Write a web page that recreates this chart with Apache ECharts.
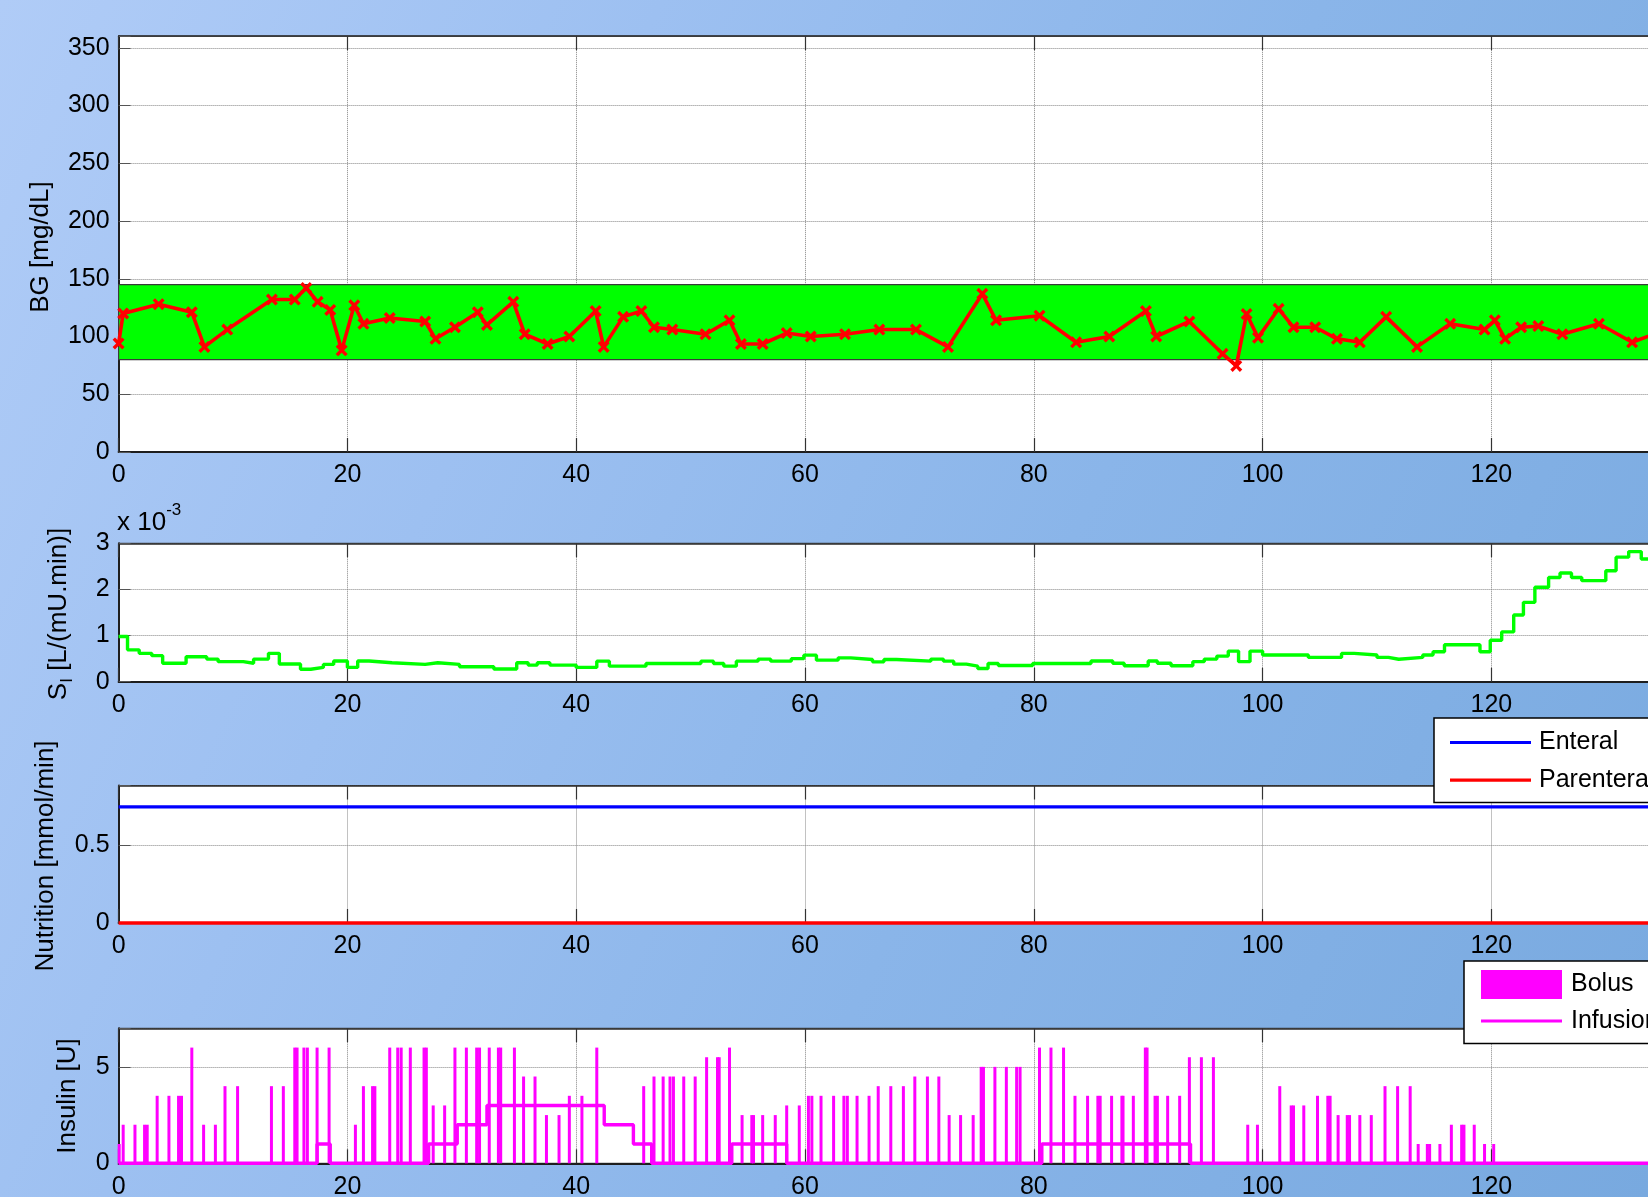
<!DOCTYPE html>
<html><head><meta charset="utf-8">
<script src="https://cdn.jsdelivr.net/npm/echarts@6/dist/echarts.min.js"></script>
<style>
html,body{margin:0;padding:0;}
body{width:1648px;height:1197px;overflow:hidden;background:linear-gradient(115deg,#b0ccf7 0%,#9dc0f1 30%,#8ab5e9 60%,#78a9df 100%);}
#c{width:1648px;height:1197px;}
</style></head><body><div id="c"></div>
<script>
// ---------------- data ----------------
const xTicks = [0, 20, 40, 60, 80, 100, 120, 140];
const bgHours = [0,0.4,3.5,6.4,7.5,9.5,13.4,15.4,16.4,17.4,18.5,19.5,20.6,21.4,23.7,26.8,27.7,29.4,31.4,32.2,34.5,35.5,37.5,39.4,41.7,42.4,44.1,45.7,46.8,48.4,51.3,53.4,54.4,56.3,58.4,60.5,63.5,66.5,69.7,72.5,75.5,76.7,80.5,83.7,86.6,89.8,90.7,93.6,96.5,97.7,98.6,99.6,101.4,102.7,104.6,106.5,108.5,110.8,113.5,116.4,119.4,120.3,121.2,122.6,124.1,126.2,129.4,132.3,135];
const bgMgdl  = [94,120,128,121,91,106,132,132,142,130,123,88,127,111,116,113,98,108,121,110,130,102,93.5,100,122,91,117,122,108,106,102,114,93.5,93.5,103,100,102,106,106,91,137,114,118,95,100,122,100,113,85,74.5,119.5,99,124,108,108,98,95,117,91,111,106,114,98,108,109,102,111,95,105];
const bandRange = [80, 145];

const siHours = [0,0.78,1.8,2.9,3.85,5.9,7.7,8.7,10.9,11.8,13.1,14.05,15.9,16.8,17.9,18.8,20.0,20.9,21.9,23.9,26.8,27.9,29.8,32.8,34.8,35.8,36.6,37.7,40.0,41.8,42.9,46.1,50.9,52.0,52.9,54.0,55.9,57.0,58.8,59.9,61.0,62.9,64.0,65.9,66.9,68.0,71.0,72.1,73.0,74.1,75.1,76.0,76.9,79.9,85.0,86.9,87.9,90.0,90.8,92.0,93.9,94.9,96.0,97.0,97.9,98.9,100.0,104.0,106.9,108.0,110.0,111.0,111.9,114.0,114.9,115.9,119.0,119.9,120.9,121.95,122.8,123.8,125.0,126.0,127.0,127.9,130.0,130.9,132.0,133.1,140];
const siValues = [0.98,0.69,0.615,0.565,0.40,0.54,0.49,0.435,0.40,0.49,0.615,0.385,0.27,0.31,0.375,0.45,0.31,0.45,0.41,0.375,0.41,0.375,0.325,0.275,0.41,0.36,0.41,0.36,0.31,0.445,0.337,0.395,0.445,0.395,0.337,0.445,0.49,0.445,0.50,0.575,0.467,0.517,0.48,0.43,0.48,0.445,0.49,0.445,0.38,0.337,0.287,0.395,0.35,0.395,0.45,0.40,0.345,0.45,0.40,0.345,0.435,0.49,0.555,0.663,0.435,0.663,0.58,0.527,0.613,0.58,0.527,0.487,0.527,0.58,0.65,0.80,0.65,0.90,1.08,1.445,1.72,2.047,2.26,2.355,2.26,2.19,2.405,2.70,2.82,2.66,2.66]; // x 10^-3

const enteralHours = [0, 140];
const enteralRate = [0.75, 0.75];
const parenteralHours = [0, 140];
const parenteralRate = [0, 0];

const bolusHours = [0.05,0.4,1.43,2.27,2.5,3.37,4.4,5.24,5.5,6.4,7.43,8.46,9.3,10.4,13.36,14.4,15.4,15.6,16.2,16.5,17.35,18.4,20.7,21.4,22.2,22.4,23.7,24.4,24.7,25.5,26.7,26.9,27.5,28.5,29.4,30.4,31.3,31.55,32.4,33.2,33.4,34.6,35.4,36.4,37.4,38.5,39.4,40.5,41.8,45.9,46.8,47.6,48.2,48.5,49.4,50.4,51.4,52.35,52.5,53.4,54.5,55.35,55.5,56.3,57.4,58.4,59.5,60.3,60.6,61.4,62.5,63.4,63.7,64.55,65.6,66.4,67.5,68.6,69.6,70.7,71.7,72.6,73.6,74.7,75.4,75.6,76.6,77.6,78.5,78.8,80.5,81.5,82.6,83.6,84.7,85.6,85.8,86.8,87.7,87.8,88.7,89.75,89.9,90.6,90.8,91.7,92.75,93.6,94.65,95.7,98.7,99.55,101.5,102.5,102.7,103.6,104.8,105.7,105.9,106.6,107.4,107.6,108.5,109.5,110.7,111.8,112.9,113.6,114.4,114.6,115.5,116.5,117.4,117.6,118.5,119.4,120.2];
const bolusUnits = [1,2,2,2,2,3.5,3.5,3.5,3.5,6,2,2,4,4,4,4,6,6,6,6,6,6,2,4,4,4,6,6,6,6,6,6,3,3,6,6,6,6,6,6,6,6,4.5,4.5,2.5,2.5,3.5,3.5,6,4,4.5,4.5,4.5,4.5,4.5,4.5,5.5,5.5,5.5,6,2.5,2.5,2.5,2.5,2.5,3,3,3.5,3.5,3.5,3.5,3.5,3.5,3.5,3.5,4,4,4,4.5,4.5,4.5,2.5,2.5,2.5,5,5,5,5,5,5,6,6,6,3.5,3.5,3.5,3.5,3.5,3.5,3.5,3.5,6,6,3.5,3.5,3.5,3.5,5.5,5.5,5.5,2,2,4,3,3,3,3.5,3.5,3.5,2.5,2.5,2.5,2.5,2.5,4,4,4,1,1,1,1,2,2,2,2,1,1];

const infusionHours = [0,17.35,18.5,27.1,29.6,32.2,42.45,45.0,46.6,53.6,58.4,80.7,93.7,140];
const infusionRate  = [0,1,0,1,2,3,2,1,0,1,0,1,0,0];

const bgTicks = [0,50,100,150,200,250,300,350];
const siTicks = [0,1,2,3];
const nutTicks = [0,0.5];
const insTicks = [0,5];

// ---------------- chart ----------------
const FONT = '"Liberation Sans", Arial, Helvetica, sans-serif';
const pairs = (a, b) => a.map((v, i) => [v, b[i]]);
const X_MAX = 140;
const AX_LEFT = 118.6, AX_W = 1601.6;
const grids = [
  {left: AX_LEFT, top: 36.2, width: AX_W, height: 415.8},
  {left: AX_LEFT, top: 543.3, width: AX_W, height: 138.4},
  {left: AX_LEFT, top: 785.5, width: AX_W, height: 137.5},
  {left: AX_LEFT, top: 1028.3, width: AX_W, height: 135}
];
const yMax = [360, 3, 0.888, 7];
const yInt = [50, 1, 0.5, 5];
const yTickSets = [bgTicks, siTicks, nutTicks, insTicks];

const dotted = {show: true, lineStyle: {color: '#858585', width: 1, type: 'dotted'}};
const axisLineStyle = {color: '#1e1e1e', width: 2};

const xAxes = [], yAxes = [];
grids.forEach((g, i) => {
  xAxes.push({
    type: 'value', gridIndex: i, position: 'bottom', min: 0, max: X_MAX, interval: 20,
    axisLine: {show: true, onZero: false, lineStyle: axisLineStyle},
    axisTick: {show: true, inside: true, length: 14, lineStyle: {color: '#333', width: 1.2}},
    axisLabel: {show: true, color: '#000', fontSize: 25, fontFamily: FONT, margin: 11,
      formatter: v => xTicks.indexOf(v) >= 0 ? String(v) : ''},
    splitLine: dotted
  });
  xAxes.push({
    type: 'value', gridIndex: i, position: 'top', min: 0, max: X_MAX, interval: 20,
    axisLine: {show: true, onZero: false, lineStyle: {color: '#2a2a2a', width: 1.5}},
    axisTick: {show: true, inside: true, length: 14, lineStyle: {color: '#333', width: 1.2}},
    axisLabel: {show: false}, splitLine: {show: false}
  });
  yAxes.push({
    type: 'value', gridIndex: i, min: 0, max: yMax[i], interval: yInt[i],
    axisLine: {show: true, onZero: false, lineStyle: axisLineStyle},
    axisTick: {show: true, inside: true, length: 12, lineStyle: {color: '#555', width: 1}},
    axisLabel: {show: true, color: '#000', fontSize: 25, fontFamily: FONT, margin: 9,
      formatter: v => {
        const t = yTickSets[i].find(k => Math.abs(k - v) < 1e-9);
        return t === undefined ? '' : String(t);
      }},
    splitLine: dotted
  });
});

const xMarker = 'path://M0,2L2,0L5,3L8,0L10,2L7,5L10,8L8,10L5,7L2,10L0,8L3,5Z';
const lineIcon = 'path://M0,0H81V3.2H0Z';

const option = {
  animation: false,
  backgroundColor: 'transparent',
  grid: grids.map(g => Object.assign({show: true, backgroundColor: '#ffffff', borderColor: '#2a2a2a', borderWidth: 1, containLabel: false, outerBoundsMode: 'none'}, g)),
  xAxis: xAxes,
  yAxis: yAxes,
  legend: [
    {
      data: [{name: 'Enteral', icon: lineIcon}, {name: 'Parenteral', icon: lineIcon}],
      orient: 'vertical', left: 1434, top: 718,
      padding: [12, 60, 10, 16], itemWidth: 81, itemHeight: 14, itemGap: 12.6,
      symbolKeepAspect: true,
      backgroundColor: '#ffffff', borderColor: '#000', borderWidth: 1.5, borderRadius: 0,
      selectedMode: false,
      textStyle: {fontSize: 25, color: '#000', fontFamily: FONT, padding: [0, 0, 0, 3]}
    },
    {
      data: [{name: 'Bolus', icon: 'rect'}, {name: 'Infusion', icon: lineIcon}],
      orient: 'vertical', left: 1464, top: 961,
      padding: [9, 60, 10, 17], itemWidth: 81, itemHeight: 29, itemGap: 9.5,
      symbolKeepAspect: true,
      backgroundColor: '#ffffff', borderColor: '#000', borderWidth: 1.5, borderRadius: 0,
      selectedMode: false,
      textStyle: {fontSize: 25, color: '#000', fontFamily: FONT, padding: [0, 0, 0, 4]}
    }
  ],
  graphic: [
    {type: 'text', x: 41, y: 247, rotation: Math.PI / 2,
      style: {text: 'BG [mg/dL]', fontSize: 26, fontFamily: FONT, fill: '#000', align: 'center', verticalAlign: 'middle'}},
    {type: 'text', x: 59, y: 614, rotation: Math.PI / 2,
      style: {text: '{m|S}{sub|I}{m| [L/(mU.min)]}', fill: '#000', align: 'center', verticalAlign: 'middle',
        rich: {m: {fontSize: 26, fontFamily: FONT, fill: '#000', lineHeight: 34, verticalAlign: 'middle'},
               sub: {fontSize: 17, fontFamily: FONT, fill: '#000', lineHeight: 34, verticalAlign: 'bottom'}}}},
    {type: 'text', x: 46, y: 856, rotation: Math.PI / 2,
      style: {text: 'Nutrition [mmol/min]', fontSize: 26, fontFamily: FONT, fill: '#000', align: 'center', verticalAlign: 'middle'}},
    {type: 'text', x: 68, y: 1096, rotation: Math.PI / 2,
      style: {text: 'Insulin [U]', fontSize: 26, fontFamily: FONT, fill: '#000', align: 'center', verticalAlign: 'middle'}},
    {type: 'text', x: 117, y: 519,
      style: {text: '{m|x 10}{sup|-3}', fill: '#000', align: 'left', verticalAlign: 'middle',
        rich: {m: {fontSize: 26, fontFamily: FONT, fill: '#000', lineHeight: 34, verticalAlign: 'bottom'},
               sup: {fontSize: 17, fontFamily: FONT, fill: '#000', lineHeight: 34, verticalAlign: 'top'}}}}
  ],
  series: [
    {
      name: 'BG', type: 'line', xAxisIndex: 0, yAxisIndex: 0, z: 3,
      data: pairs(bgHours, bgMgdl),
      symbol: xMarker, symbolSize: 12, showSymbol: true,
      lineStyle: {color: '#ff0000', width: 3.6},
      itemStyle: {color: '#ff0000'},
      markArea: {silent: true,
        itemStyle: {color: '#00ff00', borderColor: '#3a3a3a', borderWidth: 1.2},
        data: [[{yAxis: bandRange[0]}, {yAxis: bandRange[1]}]]}
    },
    {
      name: 'SI', type: 'line', xAxisIndex: 2, yAxisIndex: 1, step: 'end',
      data: pairs(siHours, siValues), showSymbol: false, symbol: 'none',
      lineStyle: {color: '#00ff00', width: 3.4}, itemStyle: {color: '#00ff00'}
    },
    {
      name: 'Enteral', type: 'line', xAxisIndex: 4, yAxisIndex: 2, clip: false,
      data: pairs(enteralHours, enteralRate), showSymbol: false, symbol: 'none',
      lineStyle: {color: '#0000ff', width: 3.4}, itemStyle: {color: '#0000ff'}
    },
    {
      name: 'Parenteral', type: 'line', xAxisIndex: 4, yAxisIndex: 2, clip: false,
      data: pairs(parenteralHours, parenteralRate), showSymbol: false, symbol: 'none',
      lineStyle: {color: '#ff0000', width: 3.4}, itemStyle: {color: '#ff0000'}
    },
    {
      name: 'Bolus', type: 'bar', xAxisIndex: 6, yAxisIndex: 3, barWidth: 3,
      data: pairs(bolusHours, bolusUnits), itemStyle: {color: '#ff00ff'}
    },
    {
      name: 'Infusion', type: 'line', xAxisIndex: 6, yAxisIndex: 3, step: 'end', clip: false,
      data: pairs(infusionHours, infusionRate), showSymbol: false, symbol: 'none',
      lineStyle: {color: '#ff00ff', width: 3.4}, itemStyle: {color: '#ff00ff'}
    }
  ]
};

const chart = echarts.init(document.getElementById('c'), null, {renderer: 'canvas', width: 1648, height: 1197});
chart.setOption(option);
</script>
</body></html>
